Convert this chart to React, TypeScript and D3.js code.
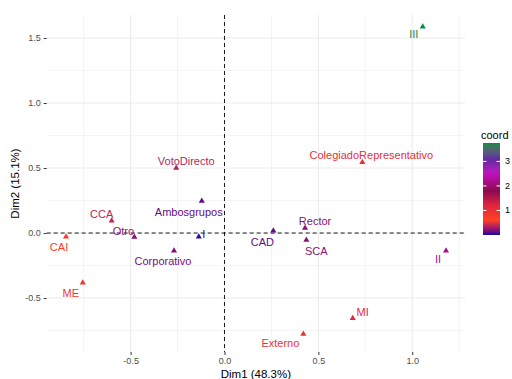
import React, { useEffect, useRef } from "react";
import * as d3 from "d3";

// categories and their coordinates on the first two dimensions
const names = ["III", "ColegiadoRepresentativo", "VotoDirecto", "Ambosgrupos", "CCA", "Otro", "CAI", "ME",
  "Corporativo", "I", "CAD", "Rector", "SCA", "II", "MI", "Externo"];
const dim1 = [1.056, 0.734, -0.257, -0.121, -0.601, -0.48, -0.844, -0.755,
  -0.269, -0.137, 0.26, 0.429, 0.436, 1.18, 0.683, 0.42];
const dim2 = [1.587, 0.544, 0.5, 0.246, 0.095, -0.03, -0.028, -0.382,
  -0.136, -0.028, 0.018, 0.038, -0.054, -0.136, -0.656, -0.777];
const coord = [3.75, 1.0, 0.34, 0.12, 0.4, 0.22, 0.72, 0.85,
  0.18, 0.03, 0.12, 0.21, 0.21, 2.2, 1.15, 0.95];

const xTicks = [-0.5, 0, 0.5, 1.0];
const xMinor = [-0.75, -0.25, 0.25, 0.75, 1.25];
const yTicks = [-0.5, 0, 0.5, 1.0, 1.5];
const yMinor = [-0.75, -0.25, 0.25, 0.75, 1.25];
const legendTicks = [1, 2, 3];

// gradient stops of the colour scale
const gradStops = [0, 0.6, 1.2, 1.8, 2.5, 3.1, 3.75];
const gradColors = ["#0A0AA0", "#FF4020", "#E0243E", "#8B0A50", "#C010C0", "#5E2A9E", "#0A8A4A"];

// label offsets (px) from the point, like ggrepel put them
const labelDx = [-9, 9, 10, -13, -10, -11, -7, -12, -11, 5, -11, 10, 10, -8, 10, -23];
const labelDy = [7, -7, -7, 11, -7, -6, 10, 10, 10, -3, 11, -7, 11, 8, -6, 9];

const W = 512, H = 379;
const panel = { left: 46.7, right: 465, top: 15, bottom: 352 };
const font = "'Liberation Sans', Arial, sans-serif";

function Biplot() {
  const ref = useRef<SVGGElement>(null);

  useEffect(() => {
    const g = d3.select(ref.current);
    g.selectAll("*").remove();

    const x = d3.scaleLinear().domain([-0.947, 1.281]).range([panel.left, panel.right]);
    const y = d3.scaleLinear().domain([-0.915, 1.677]).range([panel.bottom, panel.top]);
    const color = d3.scaleLinear<string>().domain(gradStops).range(gradColors).interpolate(d3.interpolateLab);

    // grid
    g.selectAll(".xminor").data(xMinor).enter().append("line")
      .attr("x1", d => x(d)).attr("x2", d => x(d)).attr("y1", panel.top).attr("y2", panel.bottom)
      .attr("stroke", "#F0F0F0").attr("stroke-width", 0.8);
    g.selectAll(".yminor").data(yMinor).enter().append("line")
      .attr("y1", d => y(d)).attr("y2", d => y(d)).attr("x1", panel.left).attr("x2", panel.right)
      .attr("stroke", "#F0F0F0").attr("stroke-width", 0.8);
    g.selectAll(".xmajor").data(xTicks).enter().append("line")
      .attr("x1", d => x(d)).attr("x2", d => x(d)).attr("y1", panel.top).attr("y2", panel.bottom)
      .attr("stroke", "#EBEBEB").attr("stroke-width", 1.1);
    g.selectAll(".ymajor").data(yTicks).enter().append("line")
      .attr("y1", d => y(d)).attr("y2", d => y(d)).attr("x1", panel.left).attr("x2", panel.right)
      .attr("stroke", "#EBEBEB").attr("stroke-width", 1.1);

    // axes ticks + labels
    const fmt = (d: any) => d3.format(".1f")(d).replace("−", "-");
    const xa = g.append("g").attr("transform", `translate(0,${panel.bottom})`)
      .call(d3.axisBottom(x).tickValues(xTicks).tickFormat(fmt).tickSize(3).tickPadding(3));
    const ya = g.append("g").attr("transform", `translate(${panel.left},0)`)
      .call(d3.axisLeft(y).tickValues(yTicks).tickFormat(fmt).tickSize(3).tickPadding(3));
    [xa, ya].forEach(a => {
      a.select(".domain").remove();
      a.selectAll("line").attr("stroke", "#333333");
      a.selectAll("text").attr("fill", "#4D4D4D").style("font-size", "9px").style("font-family", font);
    });

    // dashed reference lines
    g.append("line").attr("x1", x(0)).attr("x2", x(0)).attr("y1", panel.top).attr("y2", panel.bottom)
      .attr("stroke", "#000").attr("stroke-width", 0.9).attr("stroke-dasharray", "4,3");
    g.append("line").attr("y1", y(0)).attr("y2", y(0)).attr("x1", panel.left).attr("x2", panel.right)
      .attr("stroke", "#000").attr("stroke-width", 0.9).attr("stroke-dasharray", "4,3");

    const idx = d3.range(names.length);

    // points
    g.selectAll(".pt").data(idx).enter().append("path")
      .attr("d", d3.symbol().type(d3.symbolTriangle).size(16)())
      .attr("transform", i => `translate(${x(dim1[i])},${y(dim2[i])})`)
      .attr("fill", i => color(coord[i]));

    // labels
    g.selectAll(".lbl").data(idx).enter().append("text")
      .attr("x", i => x(dim1[i]) + labelDx[i])
      .attr("y", i => y(dim2[i]) + labelDy[i])
      .attr("text-anchor", "middle").attr("dominant-baseline", "central")
      .style("font-family", font).style("font-size", "11px")
      .attr("fill", i => color(coord[i]))
      .text(i => names[i]);

    // axis titles
    g.append("text").attr("x", (panel.left + panel.right) / 2).attr("y", 374)
      .attr("text-anchor", "middle").attr("dominant-baseline", "central")
      .style("font-family", font).style("font-size", "11.5px").attr("fill", "#000")
      .text("Dim1 (48.3%)");
    g.append("text").attr("transform", `translate(15,${(panel.top + panel.bottom) / 2}) rotate(-90)`)
      .attr("text-anchor", "middle").attr("dominant-baseline", "central")
      .style("font-family", font).style("font-size", "11.5px").attr("fill", "#000")
      .text("Dim2 (15.1%)");

    // legend colourbar
    const cMin = 0, cMax = d3.max(coord) as number;
    const bar = { x: 483, w: 17, top: 143, bottom: 235 };
    const ly = d3.scaleLinear().domain([cMin, cMax]).range([bar.bottom, bar.top]);
    const defs = g.append("defs");
    const grad = defs.append("linearGradient").attr("id", "coordGrad")
      .attr("x1", 0).attr("x2", 0).attr("y1", 1).attr("y2", 0);
    d3.range(0, 1.0001, 0.02).forEach(t => {
      grad.append("stop").attr("offset", t).attr("stop-color", color(cMin + t * (cMax - cMin)));
    });
    g.append("rect").attr("x", bar.x).attr("y", bar.top).attr("width", bar.w).attr("height", bar.bottom - bar.top)
      .attr("fill", "url(#coordGrad)");
    legendTicks.forEach(v => {
      g.append("line").attr("x1", bar.x).attr("x2", bar.x + 3.5).attr("y1", ly(v)).attr("y2", ly(v))
        .attr("stroke", "#fff").attr("stroke-width", 1);
      g.append("line").attr("x1", bar.x + bar.w - 3.5).attr("x2", bar.x + bar.w).attr("y1", ly(v)).attr("y2", ly(v))
        .attr("stroke", "#fff").attr("stroke-width", 1);
      g.append("text").attr("x", bar.x + bar.w + 5).attr("y", ly(v))
        .attr("dominant-baseline", "central")
        .style("font-family", font).style("font-size", "9px").attr("fill", "#000")
        .text(v);
    });
    g.append("text").attr("x", 481).attr("y", 135)
      .attr("dominant-baseline", "central")
      .style("font-family", font).style("font-size", "11px").attr("fill", "#000")
      .text("coord");
  }, []);

  return (
    <svg width={W} height={H} style={{ position: "absolute", left: 0, top: 0, background: "#fff" }}>
      <g ref={ref} />
    </svg>
  );
}

export default function App() {
  return <Biplot />;
}
